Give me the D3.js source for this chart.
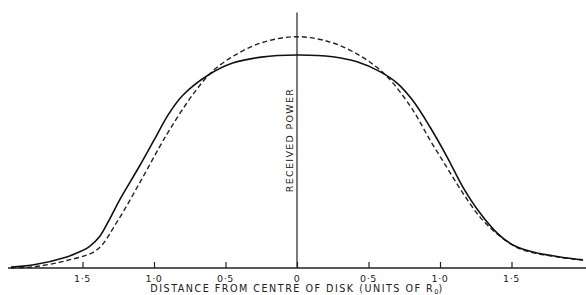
<!DOCTYPE html>
<html>
<head>
<meta charset="utf-8">
<script src="https://cdn.jsdelivr.net/npm/d3@7"></script>
<style>
  body { margin: 0; background: #fff; }
  text { font-family: 'DejaVu Sans', sans-serif; fill: #222; }
</style>
</head>
<body>
<div id="chart"></div>
<script>
// distance from centre (units of R0) and received power (arbitrary units, solid peak = 1)
const solidX = [-2.0, -1.85, -1.61, -1.52, -1.45, -1.38, -1.31, -1.24, -1.1, -1.0, -0.9, -0.8, -0.62, -0.45, -0.25, 0, 0.25, 0.42, 0.58, 0.7, 0.81, 0.93, 1.05, 1.16, 1.28, 1.4, 1.51, 1.65, 1.84, 2.0]
const solidY = [0.005, 0.014, 0.052, 0.076, 0.102, 0.148, 0.23, 0.32, 0.48, 0.6, 0.72, 0.81, 0.906, 0.962, 0.99, 1.0, 0.992, 0.968, 0.922, 0.868, 0.786, 0.662, 0.521, 0.38, 0.258, 0.164, 0.108, 0.075, 0.052, 0.038]

const dashedX = [-2.0, -1.85, -1.61, -1.4, -1.26, -1.1, -0.96, -0.89, -0.8, -0.7, -0.6, -0.45, -0.25, 0, 0.25, 0.45, 0.58, 0.67, 0.81, 0.93, 1.05, 1.16, 1.28, 1.4, 1.56, 1.84, 2.0]
const dashedY = [0.0, 0.005, 0.035, 0.085, 0.215, 0.4, 0.57, 0.65, 0.745, 0.84, 0.918, 0.993, 1.057, 1.086, 1.057, 0.993, 0.93, 0.869, 0.742, 0.601, 0.47, 0.352, 0.239, 0.16, 0.09, 0.05, 0.038]

const tickValues = [-1.5, -1.0, -0.5, 0, 0.5, 1.0, 1.5]
const tickLabels = ['1·5', '1·0', '0·5', '0', '0·5', '1·0', '1·5']
const xTitle = 'DISTANCE FROM CENTRE OF DISK (UNITS OF R'
const xTitleSub = '0'
const yTitle = 'RECEIVED POWER'

const width = 586
const height = 295
const baseY = 268

const svg = d3.select('#chart')
  .append('svg')
  .attr('width', width)
  .attr('height', height)

const x = d3.scaleLinear().domain([-2, 2]).range([11, 583])
const y = d3.scaleLinear().domain([0, 1.2]).range([baseY, 12.4])

// baseline
svg.append('line')
  .attr('x1', 8).attr('x2', width)
  .attr('y1', baseY).attr('y2', baseY)
  .attr('stroke', '#222').attr('stroke-width', 1.3)

// ticks (pointing up) and labels
const xAxis = d3.axisTop(x)
  .tickValues(tickValues)
  .tickSize(6)
  .tickFormat('')
svg.append('g')
  .attr('transform', `translate(0,${baseY})`)
  .call(xAxis)
  .call(g => g.select('.domain').remove())
  .call(g => g.selectAll('.tick line').attr('stroke', '#222').attr('stroke-width', 1.2))

svg.selectAll('.tick-label')
  .data(tickValues)
  .join('text')
  .attr('class', 'tick-label')
  .attr('x', d => x(d))
  .attr('y', 282)
  .attr('text-anchor', 'middle')
  .attr('font-size', '9.5px')
  .attr('letter-spacing', '0.6px')
  .text((d, i) => tickLabels[i])

// vertical centre line
svg.append('line')
  .attr('x1', x(0)).attr('x2', x(0))
  .attr('y1', y(1.2)).attr('y2', baseY)
  .attr('stroke', '#222').attr('stroke-width', 1.2)

// axis titles
const title = svg.append('text')
  .attr('x', x(0))
  .attr('y', 292)
  .attr('text-anchor', 'middle')
  .attr('font-size', '9.6px')
  .attr('letter-spacing', '1.5px')
title.append('tspan').text(xTitle)
title.append('tspan').attr('font-size', '6.5px').attr('letter-spacing', '0px').attr('dy', 1.5).text(xTitleSub)
title.append('tspan').attr('dy', -1.5).text(')')

svg.append('text')
  .attr('transform', `translate(${x(0) - 4},${140}) rotate(-90)`)
  .attr('text-anchor', 'middle')
  .attr('font-size', '9.5px')
  .attr('letter-spacing', '1.3px')
  .text(yTitle)

// curves
const line = d3.line()
  .x(d => x(d[0]))
  .y(d => y(d[1]))
  .curve(d3.curveCatmullRom.alpha(0.5))

svg.append('path')
  .datum(dashedX.map((d, i) => [d, dashedY[i]]))
  .attr('fill', 'none')
  .attr('stroke', '#222')
  .attr('stroke-width', 1.4)
  .attr('stroke-dasharray', '5,3')
  .attr('d', line)

svg.append('path')
  .datum(solidX.map((d, i) => [d, solidY[i]]))
  .attr('fill', 'none')
  .attr('stroke', '#111')
  .attr('stroke-width', 1.6)
  .attr('d', line)
</script>
</body>
</html>
